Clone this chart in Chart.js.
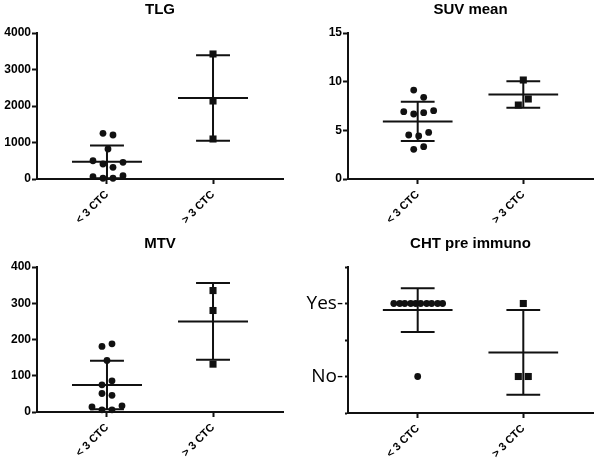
<!DOCTYPE html>
<html>
<head>
<meta charset="utf-8">
<script src="https://cdn.jsdelivr.net/npm/chart.js@4.4.1/dist/chart.umd.min.js"></script>
<style>
  html, body { margin: 0; padding: 0; background: #fff; }
  #wrap { position: relative; width: 600px; height: 460px; }
  .panel { position: absolute; width: 300px; height: 230px; }
</style>
</head>
<body>
<div id="wrap">
  <div class="panel" style="left:0;top:0"><canvas id="ChartTlg" width="300" height="230"></canvas></div>
  <div class="panel" style="left:300px;top:0"><canvas id="ChartSuv" width="300" height="230"></canvas></div>
  <div class="panel" style="left:0;top:230px"><canvas id="ChartMtv" width="300" height="230"></canvas></div>
  <div class="panel" style="left:300px;top:230px"><canvas id="ChartCht" width="300" height="230"></canvas></div>
</div>
<script>
(function () {
  "use strict";

  // Groups
  const categories = ['< 3 CTC', '> 3 CTC'];

  // TLG
  const tlgLow      = [1252, 1205, 822, 500, 411, 320, 457, 63, 20, 20, 90];
  const tlgLowJit   = [-4, 6, 1, -14, -4, 6, 16, -14, -4, 6, 16];
  const tlgHigh     = [3425, 2137, 1096];
  const tlgHighJit  = [0, 0, 0];
  const tlgMean     = [470, 2220];
  const tlgSd       = [450, 1170];
  const tlgTicks    = [0, 1000, 2000, 3000, 4000];

  // SUV mean
  const suvLow      = [9.14, 8.39, 6.92, 6.68, 6.81, 7.02, 4.52, 4.42, 4.79, 3.05, 3.32];
  const suvLowJit   = [-4, 6, -14, -4, 6, 16, -9, 1, 11, -4, 6];
  const suvHigh     = [10.17, 8.22, 7.6];
  const suvHighJit  = [0, 5, -5];
  const suvMean     = [5.92, 8.68];
  const suvSd       = [2.02, 1.37];
  const suvTicks    = [0, 5, 10, 15];

  // MTV
  const mtvLow      = [181, 188, 142, 75, 86, 51, 46, 14, 6, 6, 17];
  const mtvLowJit   = [-5, 5, 0, -5, 5, -5, 5, -15, -5, 5, 15];
  const mtvHigh     = [335, 280, 132];
  const mtvHighJit  = [0, 0, 0];
  const mtvMean     = [74.5, 250];
  const mtvSd       = [67, 106];
  const mtvTicks    = [0, 100, 200, 300, 400];

  // CHT pre immuno (1 = Yes, 0 = No)
  const chtLow      = [1, 1, 1, 1, 1, 1, 1, 1, 1, 1, 0];
  const chtLowJit   = [-24, -18, -13, -7, -2, 3, 9, 14, 20, 25, 0];
  const chtHigh     = [1, 0, 0];
  const chtHighJit  = [0, -5, 5];
  const chtMean     = [0.91, 0.33];
  const chtSd       = [0.30, 0.58];
  const chtTicks    = [-0.5, 0, 0.5, 1, 1.5];
  const chtLabels   = { 0: 'No-', 1: 'Yes-' };

  // Look
  const ink       = '#111111';
  const pxPerUnit = 106;
  const meanHalf  = 0.33;
  const capHalf   = 0.16;

  function groupPoints(values, jitter, cat) {
    return values.map((v, i) => ({ x: cat + jitter[i] / pxPerUnit, y: v }));
  }

  // mean line + sd whisker with caps, null points split the segments
  function errorBars(means, sds) {
    const pts = [];
    means.forEach(function (m, c) {
      const lo = m - sds[c], hi = m + sds[c];
      pts.push({ x: c - meanHalf, y: m }, { x: c + meanHalf, y: m }, { x: c, y: null });
      pts.push({ x: c, y: lo }, { x: c, y: hi }, { x: c, y: null });
      pts.push({ x: c - capHalf, y: hi }, { x: c + capHalf, y: hi }, { x: c, y: null });
      pts.push({ x: c - capHalf, y: lo }, { x: c + capHalf, y: lo }, { x: c, y: null });
    });
    return pts;
  }

  function makePanel(id, cfg) {
    const el = document.getElementById(id);
    if (el == null) return;
    return new Chart(el.getContext('2d'), {
      type: 'scatter',
      data: {
        datasets: [{
          data: errorBars(cfg.means, cfg.sds),
          showLine: true,
          spanGaps: false,
          borderColor: ink,
          borderWidth: 2,
          pointRadius: 0,
          clip: false
        },
        {
          data: groupPoints(cfg.low, cfg.lowJit, 0),
          pointStyle: 'circle',
          pointRadius: 3.4,
          pointBackgroundColor: ink,
          pointBorderWidth: 0,
          clip: false
        },
        {
          data: groupPoints(cfg.high, cfg.highJit, 1),
          pointStyle: 'rect',
          pointRadius: 5,
          pointBackgroundColor: ink,
          pointBorderWidth: 0,
          clip: false
        }]
      },
      options: {
        responsive: false,
        animation: false,
        events: [],
        layout: {
          padding: { left: 0, right: cfg.right, top: 0, bottom: 0 }
        },
        plugins: {
          legend: { display: false },
          tooltip: { enabled: false },
          title: {
            display: true,
            fullSize: false,
            text: cfg.title,
            color: '#000',
            font: { family: 'Liberation Sans', size: 15, weight: 'bold' },
            padding: { top: cfg.titleTop, bottom: 14 }
          }
        },
        scales: {
          x: {
            type: 'linear',
            min: -0.66,
            max: 1.66,
            afterBuildTicks: (s) => { s.ticks = categories.map((c, i) => ({ value: i })); },
            afterFit: (s) => { s.height = cfg.xHeight; },
            border: { color: ink, width: 2 },
            grid: { drawOnChartArea: false, drawTicks: true, tickLength: 5, tickColor: ink, tickWidth: 2 },
            ticks: {
              minRotation: 45,
              maxRotation: 45,
              padding: 4,
              color: '#000',
              font: { family: 'Liberation Sans', size: 11, weight: 'bold' },
              callback: (v) => categories[v]
            }
          },
          y: {
            type: 'linear',
            min: cfg.ticks[0],
            max: cfg.ticks[cfg.ticks.length - 1],
            afterBuildTicks: (s) => { s.ticks = cfg.ticks.map((v) => ({ value: v })); },
            afterFit: (s) => { s.width = cfg.left; },
            border: { color: ink, width: 2 },
            grid: { drawOnChartArea: false, drawTicks: true, tickLength: cfg.tickLen, tickColor: ink, tickWidth: 2 },
            ticks: {
              padding: cfg.tickPad,
              color: '#000',
              font: cfg.tickFont,
              callback: cfg.tickLabel
            }
          }
        }
      }
    });
  }

  const numFont = { family: 'Liberation Sans', size: 12, weight: 'bold' };

  makePanel('ChartTlg', {
    title: 'TLG', low: tlgLow, lowJit: tlgLowJit, high: tlgHigh, highJit: tlgHighJit,
    means: tlgMean, sds: tlgSd, ticks: tlgTicks,
    left: 37, right: 17, titleTop: 1, xHeight: 51,
    tickLen: 5, tickPad: 1, tickFont: numFont, tickLabel: (v) => String(v)
  });

  makePanel('ChartSuv', {
    title: 'SUV mean', low: suvLow, lowJit: suvLowJit, high: suvHigh, highJit: suvHighJit,
    means: suvMean, sds: suvSd, ticks: suvTicks,
    left: 48, right: 7, titleTop: 1, xHeight: 51,
    tickLen: 5, tickPad: 1, tickFont: numFont, tickLabel: (v) => String(v)
  });

  makePanel('ChartMtv', {
    title: 'MTV', low: mtvLow, lowJit: mtvLowJit, high: mtvHigh, highJit: mtvHighJit,
    means: mtvMean, sds: mtvSd, ticks: mtvTicks,
    left: 37, right: 17, titleTop: 5, xHeight: 48,
    tickLen: 5, tickPad: 1, tickFont: numFont, tickLabel: (v) => String(v)
  });

  makePanel('ChartCht', {
    title: 'CHT pre immuno', low: chtLow, lowJit: chtLowJit, high: chtHigh, highJit: chtHighJit,
    means: chtMean, sds: chtSd, ticks: chtTicks,
    left: 48, right: 7, titleTop: 5, xHeight: 47,
    tickLen: 3, tickPad: 2,
    tickFont: { family: 'Open Sans', size: 19, weight: 'normal' },
    tickLabel: (v) => chtLabels[v] || ''
  });

})();
</script>
</body>
</html>
